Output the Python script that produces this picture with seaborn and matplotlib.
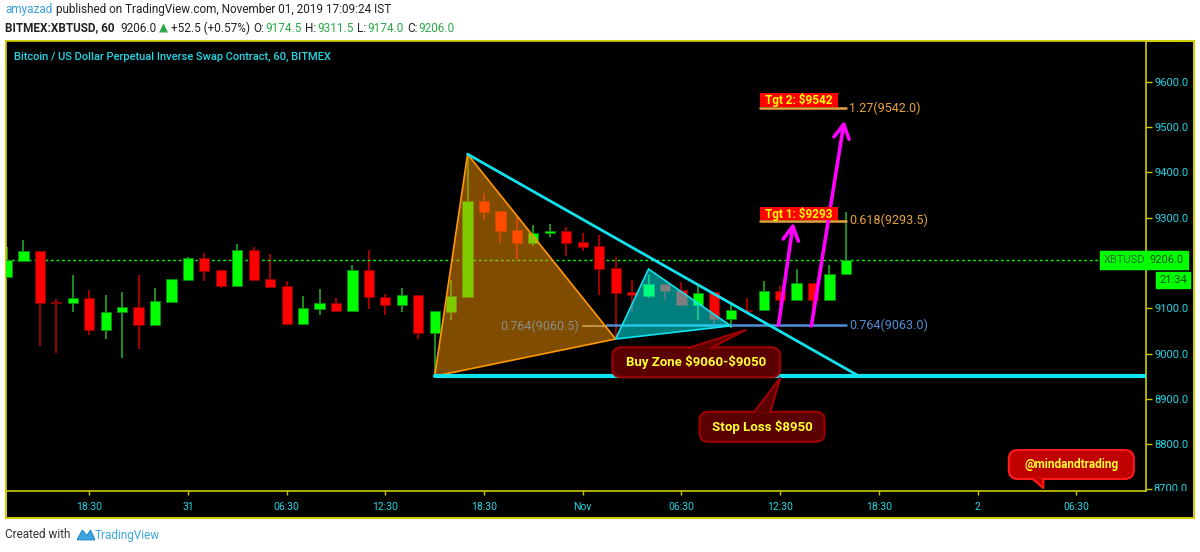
import matplotlib
matplotlib.use("Agg")
import matplotlib.pyplot as plt
import matplotlib.transforms as mtransforms
from matplotlib.patches import Rectangle, Polygon, FancyBboxPatch
import numpy as np
import pandas as pd
import seaborn as sns

# ---------------- data (hourly candles, BITMEX:XBTUSD 60) ----------------
opens = [9168, 9205, 9227, 9112, 9111, 9123, 9051, 9091, 9103, 9064,
         9114, 9163, 9211, 9184, 9150, 9229, 9165, 9149, 9066, 9099,
         9112, 9093, 9184, 9125, 9106, 9130, 9045, 9091, 9125, 9337,
         9315, 9273, 9245, 9266, 9271, 9246, 9238, 9189, 9135, 9128,
         9153, 9141, 9106, 9135, 9077, 9096, 9095, 9139, 9119, 9156,
         9117, 9174.5]
highs = [9236, 9251, 9227, 9121, 9174, 9141, 9130, 9135, 9174, 9145,
         9165, 9214, 9222, 9184, 9242, 9236, 9220, 9159, 9128, 9143,
         9122, 9196, 9229, 9132, 9145, 9130, 9093, 9163, 9440, 9354,
         9315, 9306, 9284, 9286, 9279, 9267, 9262, 9213, 9163, 9174,
         9153, 9157, 9152, 9135, 9110, 9122, 9159, 9148, 9186, 9156,
         9196, 9311.5]
lows = [9168, 9205, 9016, 9002, 9091, 9040, 9031, 8990, 9010, 9064,
        9112, 9159, 9161, 9144, 9150, 9163, 9145, 9064, 9066, 9086,
        9091, 9093, 9099, 9085, 9091, 9031, 8950, 9075, 9125, 9295,
        9245, 9207, 9238, 9257, 9216, 9227, 9130, 9035, 9091, 9123,
        9117, 9104, 9075, 9060, 9057, 9093, 9095, 9108, 9119, 9093,
        9117, 9174]
closes = [9207, 9227, 9111, 9111, 9123, 9051, 9092, 9103, 9064, 9116,
          9165, 9211, 9183, 9150, 9229, 9163, 9147, 9066, 9101, 9112,
          9093, 9184, 9124, 9106, 9130, 9045, 9093, 9126, 9337, 9313,
          9271, 9245, 9267, 9271, 9245, 9236, 9187, 9134, 9130, 9153,
          9139, 9106, 9134, 9077, 9095, 9094, 9139, 9119, 9156, 9117,
          9174.5, 9206]
last_price = 9206.0

time_tick_pos = [5, 11, 17, 23, 29, 35, 41, 47, 53, 59, 65]
time_tick_labels = ["18:30", "31", "06:30", "12:30", "18:30", "Nov",
                    "06:30", "12:30", "18:30", "2", "06:30"]
price_ticks = [8700, 8800, 8900, 9000, 9100, 9200, 9300, 9400, 9500, 9600]

# drawings (bar index, price)
orange_tri = [(26, 8950), (28, 9440), (37, 9032)]
teal_tri = [(37, 9032), (39, 9186.5), (44, 9061)]
trend_line = [(28, 9440), (51.8, 8950)]
stop_level = 8950
fib_gray = 9060.5
fib_blue = 9063.0
fib_618 = 9293.5
fib_127 = 9542.0
arrow1 = [(46.9, 9063), (47.8, 9289)]
arrow2 = [(48.9, 9061), (50.9, 9514)]

# ---------------- style ----------------
sns.set_theme(style="dark")
plt.rcParams["font.family"] = ["Roboto", "DejaVu Sans"]
plt.rcParams["text.parse_math"] = False

YEL = "#CCCC00"
CYAN = "#22D6E6"
LINE_CYAN = "#10E2EE"
GREEN = "#00FF00"
RED = "#FF0000"
GWICK = "#1E9A1E"
RWICK = "#B00000"

W, H = 1200, 552
fig = plt.figure(figsize=(12, 5.52), dpi=100, facecolor="white")

fig.patches.append(Rectangle((6 / W, 1 - 518 / H), (1194 - 6) / W, (518 - 41) / H,
                             transform=fig.transFigure, facecolor="black",
                             edgecolor=YEL, lw=1.5, zorder=-5))

ax = fig.add_axes([6 / W, 1 - 491 / H, 1140 / W, 450 / H])
ax.set_zorder(1)
ax.set_facecolor("black")
for s in ax.spines.values():
    s.set_color(YEL)
    s.set_linewidth(1.2)
ax.grid(False)
ax.set_xlim(-0.06, 69.24)
ax.set_ylim(8696.5, 9689.8)

df = pd.DataFrame({"o": opens, "h": highs, "l": lows, "c": closes})
df["i"] = np.arange(len(df))
up = (df["c"] >= df["o"]).to_numpy()

# wicks + bodies
ax.vlines(df["i"], df["l"], df["h"], colors=np.where(up, GWICK, RWICK), lw=1.3, zorder=2)
body_bottom = np.minimum(df["o"], df["c"])
body_h = np.maximum((df["c"] - df["o"]).abs(), 2.0)
ax.bar(df["i"], body_h, bottom=body_bottom, width=0.62,
       color=list(np.where(up, GREEN, RED)), edgecolor=list(np.where(up, "#0A8A0A", "#8A0000")),
       linewidth=0.6, zorder=3)

# last-price dotted line (seaborn)
lp = pd.DataFrame({"x": [-0.06, 69.24], "y": [last_price, last_price]})
sns.lineplot(data=lp, x="x", y="y", ax=ax, color=GREEN, lw=1, linestyle=(0, (2, 2)), zorder=2)

# fib levels
ax.plot([35.0, 36.4], [fib_gray, fib_gray], color="#8C8C8C", lw=1.5, zorder=2.5)
ax.text(34.8, fib_gray, "0.764(9060.5)", color="#8C8C8C", fontsize=9, ha="right", va="center", zorder=8)
ax.plot([36.4, 51.0], [fib_blue, fib_blue], color="#4F8FD8", lw=1.8, zorder=2.5)
ax.text(51.2, fib_blue, "0.764(9063.0)", color="#4F8FD8", fontsize=9, ha="left", va="center", zorder=8)
ax.plot([45.8, 51.0], [fib_618, fib_618], color="#E6A23C", lw=1.8, zorder=2.5)
ax.text(51.2, fib_618, "0.618(9293.5)", color="#E6A23C", fontsize=9, ha="left", va="center", zorder=8)
ax.plot([45.8, 51.0], [fib_127, fib_127], color="#E6A23C", lw=1.8, zorder=2.5)
ax.text(51.2, fib_127, "1.27(9542.0)", color="#E6A23C", fontsize=9, ha="left", va="center", zorder=8)

# triangles
ax.add_patch(Polygon(orange_tri, closed=True, facecolor=(1, 0.596, 0, 0.5),
                     edgecolor="#FF9800", lw=1.2, zorder=4))
ax.add_patch(Polygon(teal_tri, closed=True, facecolor=(0, 1, 1, 0.5),
                     edgecolor=LINE_CYAN, lw=1.2, zorder=4))

# trend lines
ax.plot([p[0] for p in trend_line], [p[1] for p in trend_line], color=LINE_CYAN, lw=2, zorder=5)
ax.plot([26, 69.24], [stop_level, stop_level], color=LINE_CYAN, lw=3, zorder=5)

# target arrows
for a in (arrow1, arrow2):
    ax.annotate("", xy=a[1], xytext=a[0],
                arrowprops=dict(arrowstyle="->,head_length=1.0,head_width=0.55",
                                color="#FF00FF", lw=2.6, shrinkA=0, shrinkB=0,
                                mutation_scale=10), zorder=6)

# target labels
def tgt_box(x0, x1, y0, y1, text):
    ax.add_patch(Rectangle((x0, y0), x1 - x0, y1 - y0, facecolor=RED, edgecolor="none", zorder=7))
    ax.text((x0 + x1) / 2, (y0 + y1) / 2, text, color="#FFFF00", fontsize=8.5,
            fontweight="bold", ha="center", va="center", zorder=8)

tgt_box(45.8, 50.5, 9294, 9323, "Tgt 1: $9293")
tgt_box(45.8, 50.5, 9544, 9575, "Tgt 2: $9542")

# callouts
ASPECT = 16.45 / 0.453

def callout(x0, x1, y0, y1, base, by, tip, face, edge, text, fs):
    ax.add_patch(FancyBboxPatch((x0, y0), x1 - x0, y1 - y0,
                                boxstyle="round,pad=0,rounding_size=0.55",
                                mutation_aspect=ASPECT, facecolor=face,
                                edgecolor=edge, lw=1.5, zorder=7))
    ax.add_patch(Polygon([(base[0], by), tip, (base[1], by)], closed=True,
                         facecolor=face, edgecolor="none", zorder=7.1))
    ax.plot([base[0], tip[0], base[1]], [by, tip[1], by], color=edge, lw=1.5, zorder=7.2)
    ax.text((x0 + x1) / 2, (y0 + y1) / 2, text, color="#FFFF33", fontsize=fs,
            fontweight="bold", ha="center", va="center", zorder=8)

callout(36.8, 47.0, 8947.5, 9013.7, (41.4, 42.8), 9012, (44.9, 9052),
        "#5A0000", "#A00000", "Buy Zone $9060-$9050", 9.5)
callout(42.1, 49.7, 8805, 8871.5, (45.4, 46.4), 8870, (47.0, 8946),
        "#5A0000", "#A00000", "Stop Loss $8950", 9.5)
callout(60.9, 68.5, 8723, 8787, (62.3, 63.0), 8724.5, (63.0, 8703),
        "#C00000", "#FF1A1A", "@mindandtrading", 8.5)

# chart title
ax.text(8 / 1140, (491 - 57) / 450, "Bitcoin / US Dollar Perpetual Inverse Swap Contract, 60, BITMEX",
        transform=ax.transAxes, color=CYAN, fontsize=8, fontweight="medium",
        ha="left", va="center", zorder=9)

# axes ticks
ax.yaxis.tick_right()
ax.set_yticks(price_ticks)
ax.set_yticklabels(["" if v in (8700, 9200) else f"{v:.1f}" for v in price_ticks])
ax.tick_params(axis="y", which="both", right=True, left=False, colors=YEL,
               labelcolor=CYAN, length=4, width=1, labelsize=8, pad=2, direction="out")
ax.set_xticks(time_tick_pos)
ax.set_xticklabels(time_tick_labels)
ax.tick_params(axis="x", which="both", bottom=True, colors=YEL, labelcolor=CYAN,
               length=3, width=1, labelsize=7.5, pad=5, direction="out")
ax.set_xlabel("")
ax.set_ylabel("")

blend = mtransforms.blended_transform_factory(ax.transAxes, ax.transData)
clip_rect = Rectangle((1146 / W, 1 - 491 / H), 48 / W, 450 / H, transform=fig.transFigure)
t8700 = ax.text(1.0061, 8700, "8700.0", transform=blend, color=CYAN, fontsize=8,
                ha="left", va="center", clip_on=True)
t8700.set_clip_path(clip_rect)

# price labels on right
ax.text(0.9995, last_price, "XBTUSD", transform=blend, color="#2A6E2A", fontsize=8,
        ha="right", va="center", zorder=10,
        bbox=dict(boxstyle="square,pad=0.35", facecolor=GREEN, edgecolor=GREEN))
ax.text(1.0035, last_price, "9206.0", transform=blend, color="#1F4F1F", fontsize=8,
        ha="left", va="center", zorder=10, clip_on=False,
        bbox=dict(boxstyle="square,pad=0.35", facecolor=GREEN, edgecolor=GREEN))
ax.text(1.0115, 9162, "21:34", transform=blend, color="#1F4F1F", fontsize=8,
        ha="left", va="center", zorder=10, clip_on=False,
        bbox=dict(boxstyle="square,pad=0.3", facecolor=GREEN, edgecolor=GREEN))

# header / footer text
renderer = fig.canvas.get_renderer()

def seq(x, y, parts, size):
    for s, col, wt, gap in parts:
        t = fig.text(x / W, 1 - y / H, s, color=col, fontsize=size, fontweight=wt,
                     ha="left", va="center",
                     family=["Roboto", "DejaVu Sans"])
        x += t.get_window_extent(renderer).width + gap

DARK = "#222222"
HG = "#2BA84A"
seq(5, 10, [("amyazad", "#3B9FE0", "normal", 3.5),
            ("published on TradingView.com, November 01, 2019 17:09:24 IST", DARK, "normal", 0)], 8.5)
seq(5, 28, [("BITMEX:XBTUSD, 60", DARK, "bold", 6),
            ("9206.0", DARK, "normal", 2),
            ("\u25B2", HG, "normal", 3),
            ("+52.5 (+0.57%)", DARK, "normal", 4),
            ("O:", DARK, "normal", 0.5), ("9174.5", HG, "normal", 4),
            ("H:", DARK, "normal", 0.5), ("9311.5", HG, "normal", 4),
            ("L:", DARK, "normal", 0.5), ("9174.0", HG, "normal", 4),
            ("C:", DARK, "normal", 0.5), ("9206.0", HG, "normal", 0)], 8.5)

# footer with a small logo mark
seq(5, 535, [("Created with", "#333333", "normal", 24),
             ("TradingView", "#3BA7E0", "normal", 0)], 8.5)
logo_ax = fig.add_axes([77 / W, 1 - 541 / H, 18 / W, 12 / H])
logo_ax.set_axis_off()
logo_ax.add_patch(Polygon([(0, 0.1), (0.3, 0.9), (0.55, 0.45), (0.75, 0.9), (1, 0.1)],
                          closed=True, facecolor="#3BA7E0", edgecolor="#1E88C8", lw=0.8))
logo_ax.set_xlim(0, 1)
logo_ax.set_ylim(0, 1)

fig.savefig("out.png", dpi=100, facecolor="white")
